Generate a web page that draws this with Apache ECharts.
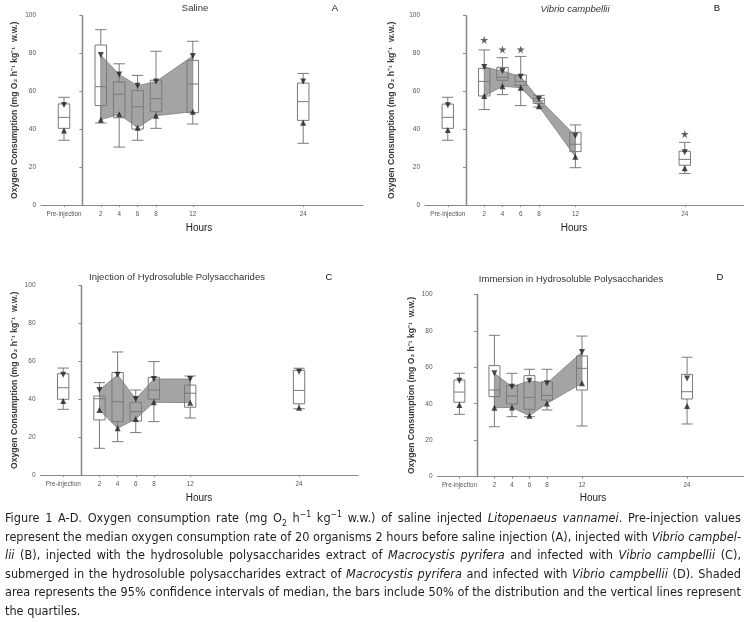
<!DOCTYPE html>
<html>
<head>
<meta charset="utf-8">
<script src="https://cdn.jsdelivr.net/npm/echarts@6/dist/echarts.min.js"></script>
<style>
html,body{margin:0;padding:0;background:#fff;}
#chart{position:absolute;left:0;top:0;width:744px;height:622px;}
#cap{position:absolute;left:5px;top:509px;width:736px;font-family:'Liberation Sans Narrow','DejaVu Sans Condensed',sans-serif;font-size:12.6px;line-height:18.6px;color:#1e1e1e;}
#cap .j{text-align:justify;text-align-last:justify;height:18.6px;overflow:visible;}
#cap .l{text-align:left;}
#cap sub,#cap sup{font-size:0.68em;line-height:0;}
</style>
</head>
<body>
<div id="chart"></div>
<div id="cap">
<div class="j">Figure 1 A-D. Oxygen consumption rate (mg O<sub>2</sub> h<sup>−1</sup> kg<sup>−1</sup> w.w.) of saline injected <i>Litopenaeus vannamei</i>. Pre-injection values</div>
<div class="j">represent the median oxygen consumption rate of 20 organisms 2 hours before saline injection (A), injected with <i>Vibrio campbel-</i></div>
<div class="j"><i>lii</i> (B), injected with the hydrosoluble polysaccharides extract of <i>Macrocystis pyrifera</i> and infected with <i>Vibrio campbellii</i> (C),</div>
<div class="j">submerged in the hydrosoluble polysaccharides extract of <i>Macrocystis pyrifera</i> and infected with <i>Vibrio campbellii</i> (D). Shaded</div>
<div class="j">area represents the 95% confidence intervals of median, the bars include 50% of the distribution and the vertical lines represent</div>
<div class="l">the quartiles.</div>
</div>
<script>
// ---------- DATA ----------
const hours = [-2, 2, 4, 6, 8, 12, 24];
const hourLabels = ['Pre-injection', '2', '4', '6', '8', '12', '24'];
// band (95% CI of median) drawn between these hours (indices into hours)
const bandHours = [2, 4, 6, 8, 12];

// box rows: [lower whisker, Q1, median, Q3, upper whisker]
const salineBox = [
  [34.2, 40.5, 46.3, 53.4, 56.9],
  [43.3, 52.5, 62.5, 84.5, 92.6],
  [30.6, 46.1, 58.5, 65.0, 74.6],
  [34.2, 40.1, 51.9, 60.4, 68.5],
  [40.5, 49.3, 56.2, 65.9, 81.2],
  [42.8, 48.8, 63.9, 76.4, 86.5],
  [32.6, 44.7, 54.6, 64.4, 69.5]
];
const salineCiLow  = [39.3, 45.1, 47.9, 40.8, 47.2, 49.3, 43.5];
const salineCiHigh = [52.8, 79.2, 69.0, 63.0, 65.2, 78.7, 65.3];

const vibrioBox = [
  [34.2, 40.5, 46.3, 53.3, 56.9],
  [50.4, 57.6, 65.3, 72.2, 81.9],
  [58.3, 65.9, 67.5, 72.7, 77.8],
  [52.5, 63.2, 65.3, 68.7, 78.5],
  [51.8, 53.6, 55.0, 56.4, 57.9],
  [19.7, 28.2, 32.1, 38.4, 42.3],
  [16.6, 21.0, 24.1, 28.4, 33.1]
];
const vibrioCiLow  = [39.6, 57.6, 62.7, 62.0, 52.2, 25.5, 19.4];
const vibrioCiHigh = [52.7, 72.9, 70.8, 67.8, 56.0, 36.6, 27.8];
const vibrioStarHours  = [2, 4, 6, 24];
const vibrioStarValues = [87.2, 82.2, 82.2, 37.5];

const injectionBox = [
  [34.7, 40.0, 46.1, 53.5, 56.5],
  [14.1, 29.1, 40.3, 41.7, 48.8],
  [17.6, 28.2, 38.7, 54.1, 65.0],
  [22.4, 28.5, 33.5, 38.4, 44.9],
  [28.2, 40.0, 44.9, 51.6, 59.9],
  [30.1, 35.8, 43.2, 47.5, 52.3],
  [35.0, 37.6, 44.7, 55.3, 56.4]
];
const injectionCiLow  = [39.1, 34.3, 24.7, 29.6, 38.4, 38.2, 35.5];
const injectionCiHigh = [53.0, 44.9, 53.0, 40.1, 50.7, 50.7, 54.6];

const immersionBox = [
  [34.2, 40.8, 46.4, 53.0, 56.7],
  [27.4, 43.9, 47.5, 60.9, 77.5],
  [32.9, 39.9, 44.2, 50.1, 56.7],
  [32.9, 36.9, 43.5, 55.4, 58.9],
  [36.6, 42.0, 44.6, 52.1, 58.9],
  [27.8, 47.5, 59.4, 66.2, 77.1],
  [28.9, 42.6, 46.6, 56.1, 65.5]
];
const immersionCiLow  = [39.3, 37.8, 38.0, 33.4, 40.2, 51.2, 38.8];
const immersionCiHigh = [52.6, 56.7, 49.3, 52.6, 51.2, 68.4, 53.9];

const yTickInterval = 20;
const yName = 'Oxygen Consumption (mg O\u2082 h\u207B\u00B9 kg\u207B\u00B9  w.w.)';

// ---------- LAYOUT / STYLE ----------
const FONT = "'Liberation Sans', Arial, sans-serif";
const AX = '#8a8a8a';
const BOXW = 1.25;
const panels = [
  {grid:{left:41, top:15.7, width:322, height:189.3}, box:salineBox, lo:salineCiLow, hi:salineCiHigh, gap:22},
  {grid:{left:425, top:15.7, width:319, height:189.3}, box:vibrioBox, lo:vibrioCiLow, hi:vibrioCiHigh, gap:29},
  {grid:{left:40.5, top:285.7, width:317.5, height:189.3}, box:injectionBox, lo:injectionCiLow, hi:injectionCiHigh, gap:21},
  {grid:{left:437.5, top:294.3, width:306.5, height:182.4}, box:immersionBox, lo:immersionCiLow, hi:immersionCiHigh, gap:21.5}
];

const grids = [], xAxes = [], yAxes = [], series = [];
panels.forEach((p, k) => {
  grids.push(Object.assign({containLabel:false}, p.grid));
  xAxes.push({
    type:'value', gridIndex:k, min:-4.5, max:30.5,
    axisLine:{show:true, onZero:false, lineStyle:{color:AX, width:1.2}},
    axisTick:{show:true, customValues:hours, length:2, lineStyle:{color:AX}},
    axisLabel:{customValues:hours, fontSize:6.3, color:'#555', margin:6, fontFamily:FONT,
      formatter:v => { const i = hours.indexOf(v); return i >= 0 ? hourLabels[i] : ''; }},
    splitLine:{show:false}
  });
  yAxes.push({
    type:'value', gridIndex:k, min:0, max:100, interval:yTickInterval,
    axisLine:{show:true, lineStyle:{color:AX, width:1.2}},
    axisTick:{show:true, length:3, lineStyle:{color:AX}},
    axisLabel:{fontSize:6.5, color:'#555', margin:5, fontFamily:FONT},
    splitLine:{show:false},
    name:yName, nameLocation:'middle', nameGap:p.gap,
    nameTextStyle:{fontSize:8.6, fontWeight:'bold', color:'#3a3a3a', fontFamily:FONT}
  });
  const lo = p.lo, hi = p.hi;
  const bandIdx = bandHours.map(h => hours.indexOf(h));
  // shaded CI band
  series.push({
    type:'custom', xAxisIndex:k, yAxisIndex:k, z:1, silent:true,
    data:[[bandHours[0], lo[bandIdx[0]], hi[bandIdx[0]]]],
    renderItem:(params, api) => {
      const pts = [];
      bandIdx.forEach(i => pts.push(api.coord([hours[i], hi[i]])));
      bandIdx.slice().reverse().forEach(i => pts.push(api.coord([hours[i], lo[i]])));
      return {type:'polygon', shape:{points:pts}, style:{fill:'#a4a4a4', stroke:'#7d7d7d', lineWidth:0.8}};
    },
    markLine:{silent:true, symbol:'none', label:{show:false}, animation:false,
      lineStyle:{color:AX, width:1.4, type:'solid'}, data:[{xAxis:0}]}
  });
  // boxes
  series.push({
    type:'custom', xAxisIndex:k, yAxisIndex:k, z:2, silent:true,
    data:hours.map((h, i) => [h].concat(p.box[i])),
    encode:{x:0, y:[1,2,3,4,5]},
    renderItem:(params, api) => {
      const x = api.value(0);
      const c = v => api.coord([x, v]);
      const xl = api.coord([x - BOXW/2, 0])[0], xr = api.coord([x + BOXW/2, 0])[0];
      const xm = c(0)[0];
      const yMin = c(api.value(1))[1], yQ1 = c(api.value(2))[1], yMed = c(api.value(3))[1],
            yQ3 = c(api.value(4))[1], yMax = c(api.value(5))[1];
      const st = {stroke:'#7a7a7a', lineWidth:1, fill:null};
      return {type:'group', children:[
        {type:'line', shape:{x1:xm, y1:yMax, x2:xm, y2:yQ3}, style:st},
        {type:'line', shape:{x1:xm, y1:yQ1, x2:xm, y2:yMin}, style:st},
        {type:'line', shape:{x1:xl, y1:yMax, x2:xr, y2:yMax}, style:st},
        {type:'line', shape:{x1:xl, y1:yMin, x2:xr, y2:yMin}, style:st},
        {type:'rect', shape:{x:xl, y:yQ3, width:xr-xl, height:yQ1-yQ3}, style:{stroke:'#7a7a7a', lineWidth:1, fill:'rgba(0,0,0,0)'}},
        {type:'line', shape:{x1:xl, y1:yMed, x2:xr, y2:yMed}, style:st}
      ]};
    }
  });
  // CI triangles
  series.push({
    type:'scatter', xAxisIndex:k, yAxisIndex:k, z:3, silent:true,
    symbol:'triangle', symbolRotate:180, symbolSize:6,
    itemStyle:{color:'#1e1e1e'},
    data:hours.map((h, i) => [h, hi[i]])
  });
  series.push({
    type:'scatter', xAxisIndex:k, yAxisIndex:k, z:3, silent:true,
    symbol:'triangle', symbolSize:6,
    itemStyle:{color:'#1e1e1e'},
    data:hours.map((h, i) => [h, lo[i]])
  });
});
// significance stars (panel B)
series.push({
  type:'scatter', xAxisIndex:1, yAxisIndex:1, z:4, silent:true,
  symbol:'path://M50,0 L61,35 L98,35 L68,57 L79,91 L50,70 L21,91 L32,57 L2,35 L39,35 Z',
  symbolSize:8, itemStyle:{color:'#3a3a3a'},
  data:vibrioStarHours.map((h, i) => [h, vibrioStarValues[i]])
});

function txt(x, y, text, size, opts) {
  return Object.assign({type:'text', x:x, y:y, silent:true,
    style:{text:text, fontSize:size, fontFamily:FONT, fill:'#333', align:'center', verticalAlign:'middle'}}, opts || {});
}
const graphic = [
  txt(195, 8, 'Saline', 9.5),
  txt(335, 8, 'A', 9.5, {style:{text:'A', fontSize:9.5, fontFamily:FONT, fill:'#111', align:'center', verticalAlign:'middle'}}),
  txt(575, 9, 'Vibrio campbellii', 9.5, {style:{text:'Vibrio campbellii', fontSize:9.5, fontStyle:'italic', fontFamily:FONT, fill:'#333', align:'center', verticalAlign:'middle'}}),
  txt(717, 8, 'B', 9.5, {style:{text:'B', fontSize:9.5, fontFamily:FONT, fill:'#111', align:'center', verticalAlign:'middle'}}),
  txt(177, 277, 'Injection of Hydrosoluble Polysaccharides', 9.5),
  txt(329, 277, 'C', 9.5, {style:{text:'C', fontSize:9.5, fontFamily:FONT, fill:'#111', align:'center', verticalAlign:'middle'}}),
  txt(571, 279, 'Immersion in Hydrosoluble Polysaccharides', 9.5),
  txt(720, 277, 'D', 9.5, {style:{text:'D', fontSize:9.5, fontFamily:FONT, fill:'#111', align:'center', verticalAlign:'middle'}}),
  txt(199, 228, 'Hours', 10, {style:{text:'Hours', fontSize:10, fontFamily:FONT, fill:'#222', align:'center', verticalAlign:'middle'}}),
  txt(574, 228, 'Hours', 10, {style:{text:'Hours', fontSize:10, fontFamily:FONT, fill:'#222', align:'center', verticalAlign:'middle'}}),
  txt(199, 498, 'Hours', 10, {style:{text:'Hours', fontSize:10, fontFamily:FONT, fill:'#222', align:'center', verticalAlign:'middle'}}),
  txt(593, 498, 'Hours', 10, {style:{text:'Hours', fontSize:10, fontFamily:FONT, fill:'#222', align:'center', verticalAlign:'middle'}})
];

const chart = echarts.init(document.getElementById('chart'));
chart.setOption({
  animation:false,
  backgroundColor:'#fff',
  grid:grids, xAxis:xAxes, yAxis:yAxes, series:series, graphic:graphic
});
</script>
</body>
</html>
